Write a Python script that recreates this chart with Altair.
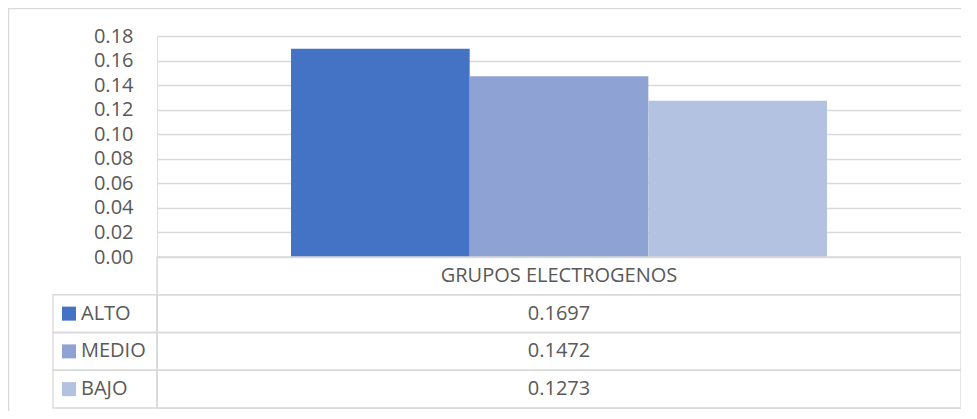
import altair as alt
import pandas as pd

# ---- data ----
category = "GRUPOS ELECTROGENOS"
series = ["ALTO", "MEDIO", "BAJO"]
values = [0.1697, 0.1472, 0.1273]
value_labels = ["0.1697", "0.1472", "0.1273"]
colors = ["#4472C4", "#8FA2D4", "#B4C2E2"]
y_ticks = [0.00, 0.02, 0.04, 0.06, 0.08, 0.10, 0.12, 0.14, 0.16, 0.18]
table_rows = [category] + series
table_texts = [category] + value_labels

# ---- layout constants ----
W = 804          # plot width (gridlines / table width)
H = 372          # plot + table height
BAR_H = 221      # pixel height of the bar region
LEFT_COL = 104   # width of the legend column of the table
GRID = "#d9d9d9"
TXT = "#595959"
FONT = "Open Sans"

bars_df = pd.DataFrame({"category": [category] * len(series),
                        "series": series, "value": values})
table_df = pd.DataFrame({"row": table_rows, "text": table_texts})
legend_df = pd.DataFrame({"row": series, "series": series})
frame_df = pd.DataFrame({"k": [0]})

color_scale = alt.Scale(domain=series, range=colors)
row_scale = alt.Scale(domain=table_rows, range=[BAR_H, H], paddingInner=0, paddingOuter=0)

bars = alt.Chart(bars_df).mark_bar().encode(
    x=alt.X("category:N", scale=alt.Scale(paddingInner=0, paddingOuter=0.25), axis=None),
    xOffset=alt.XOffset("series:N", scale=alt.Scale(domain=series, paddingInner=0, paddingOuter=0)),
    y=alt.Y("value:Q", title=None,
            scale=alt.Scale(domain=[0, 0.18], range=[BAR_H, 0], nice=False, zero=True),
            axis=alt.Axis(values=y_ticks, format=".2f", grid=True, gridColor=GRID,
                          gridWidth=1.3, domain=False, ticks=False, tickSize=0,
                          labelPadding=24, labelFontSize=20, labelColor=TXT,
                          labelFont=FONT)),
    color=alt.Color("series:N", scale=color_scale, legend=None),
)

cells = alt.Chart(table_df).mark_rect(fillOpacity=0, stroke=GRID, strokeWidth=1.3).encode(
    x=alt.value(0), x2=alt.value(W),
    y=alt.Y("row:N", scale=row_scale, axis=None),
)

left_cells = alt.Chart(legend_df).mark_rect(fillOpacity=0, stroke=GRID, strokeWidth=1.3).encode(
    x=alt.value(-LEFT_COL), x2=alt.value(0),
    y=alt.Y("row:N", scale=row_scale, axis=None),
)

cell_text = alt.Chart(table_df).mark_text(fontSize=20, color=TXT, font=FONT).encode(
    x=alt.value(W / 2),
    y=alt.Y("row:N", scale=row_scale, axis=None),
    text="text:N",
)

legend_sq = alt.Chart(legend_df).mark_square(size=196, opacity=1).encode(
    x=alt.value(-88),
    y=alt.Y("row:N", scale=row_scale, axis=None),
    color=alt.Color("series:N", scale=color_scale, legend=None),
)

legend_txt = alt.Chart(legend_df).mark_text(fontSize=20, color=TXT, font=FONT, align="left").encode(
    x=alt.value(-76),
    y=alt.Y("row:N", scale=row_scale, axis=None),
    text="series:N",
)

frame_top = alt.Chart(frame_df).mark_rule(color=GRID, strokeWidth=1.5).encode(
    x=alt.value(-149), x2=alt.value(W + 20), y=alt.value(-27.5)
)
frame_left = alt.Chart(frame_df).mark_rule(color=GRID, strokeWidth=1.5).encode(
    x=alt.value(-148.5), y=alt.value(-28), y2=alt.value(H + 20)
)

chart = alt.layer(
    frame_top, frame_left, bars, cells, left_cells, cell_text, legend_sq, legend_txt
).resolve_scale(y="independent").properties(
    width=W, height=H,
    autosize=alt.AutoSizeParams(type="none"),
    padding={"left": 149, "top": 28, "right": 0, "bottom": 3},
).configure_view(strokeWidth=0).configure(font=FONT)

chart.save("out.html", embed_options={"renderer": "svg", "actions": False})
